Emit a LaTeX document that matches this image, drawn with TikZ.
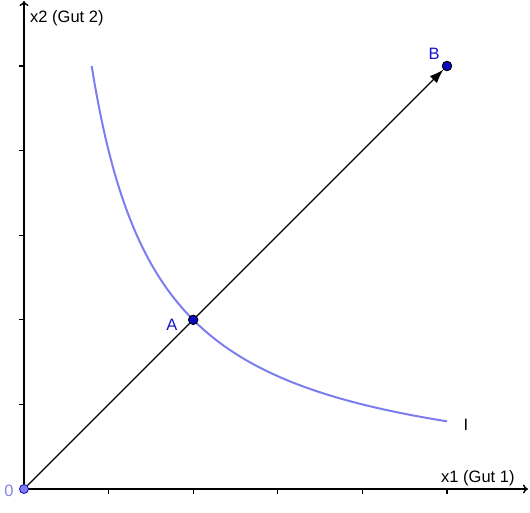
\documentclass[tikz,border=0pt]{standalone}
\usepackage{fontspec}
\setmainfont{Liberation Sans}
\usetikzlibrary{arrows.meta}
\definecolor{curveblue}{RGB}{125,125,240}
\definecolor{ptblue}{RGB}{10,10,190}
\definecolor{lblblue}{RGB}{20,20,200}
\definecolor{zeroblue}{RGB}{130,130,230}
\tikzset{
  axis/.style={line width=1.4pt,-{To[length=5pt,width=9pt]}},
  tickmark/.style={line width=1.2pt},
  ptdark/.style={circle,draw=black,fill=ptblue,line width=0.9pt,inner sep=0pt,minimum size=9.5pt},
  ptlight/.style={circle,draw=ptblue,fill=curveblue,line width=0.8pt,inner sep=0pt,minimum size=9pt},
  lbl/.style={font=\fontsize{16.5}{19}\selectfont,inner sep=0pt},
}
\begin{document}
\begin{tikzpicture}[x=1pt,y=-1pt]
\useasboundingbox (0,0) rectangle (530,512);
% axes
\coordinate (O0) at (24,489);
\coordinate (xend) at (528,489);
\coordinate (yend) at (24,1);
\draw[axis] (O0) -- (xend);
\draw[axis] (O0) -- (yend);
% ticks
\foreach \k in {1,...,5} {
  \draw[tickmark] ({24+84.6*\k},489) -- ({24+84.6*\k},494);
  \draw[tickmark] (19,{489-84.6*\k}) -- (24,{489-84.6*\k});
}
% indifference curve
\draw[curveblue,line width=2pt] plot[domain=0.8:5,samples=120,smooth] ({24+84.6*\x},{489-84.6*4/\x});
% points
\node[ptlight] (O) at (24,489) {};
\node[ptdark] (B) at (447,66) {};
\draw[line width=1.1pt,-{Latex[length=14pt,width=10pt]}] (O) -- (B);
\node[ptdark] (A) at (193.2,319.8) {};
% labels
\node[lbl,text=lblblue] (lA) at (172,325) {A};
\node[lbl,text=lblblue] (lB) at (434,54) {B};
\node[lbl,text=zeroblue] (l0) at (9,491) {0};
\node[lbl] (lI) at (466,425) {I};
\node[lbl,anchor=west] (lx2) at (30,18) {x2 (Gut 2)};
\node[lbl,anchor=west] (lx1) at (441,478) {x1 (Gut 1)};
\end{tikzpicture}
\end{document}
